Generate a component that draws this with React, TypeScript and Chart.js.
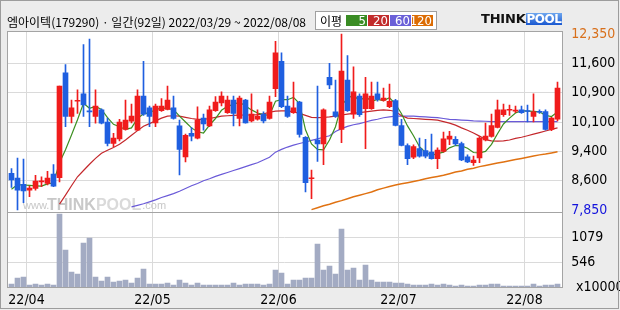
import React, { useEffect, useRef } from 'react';
import { Chart, registerables } from 'chart.js';

Chart.register(...registerables);

// ---------------- data ----------------
const title = '엠아이텍(179290) · 일간(92일) 2022/03/29 ~ 2022/08/08';
const maLegendLabel = '이평';
const maPeriods = ['5', '20', '60', '120'];

const monthLabels = ['22/04', '22/05', '22/06', '22/07', '22/08'];
const monthStartIndex = [3, 24, 45, 65, 86];

const priceTickValues = [7850, 8600, 9350, 10100, 10850, 11600, 12350];
const priceTickLabels = ['7,850', '8,600', '9,400', '10,100', '10,900', '11,600', '12,350'];
const volumeTickValues = [546, 1079];
const volumeTickLabels = ['546', '1079'];
const volumeUnitLabel = 'x10000';

const opens = [
  8790, 8670, 8510, 8360, 8400, 8570, 8530, 8770, 8680, 11360,
  10240, 10630, 10820, 10370, 10240, 10410, 10100, 9550, 9670, 9910,
  10120, 9890, 10760, 10460, 10080, 10390, 10420, 10460, 10000, 9210,
  9810, 9690, 10200, 10000, 10390, 10590, 10340, 10660, 10190, 10660,
  10130, 10170, 10300, 10190, 10950, 11650, 10510, 10340, 10610, 9710,
  8650, 9640, 9540, 11240, 10360, 9910, 11170, 10300, 10760, 10440,
  10440, 10820, 10650, 10490, 10650, 10010, 9500, 9200, 9420, 9370,
  9330, 9160, 9350, 9660, 9660, 9550, 9210, 9060, 9180, 9640,
  9730, 9960, 10290, 10400, 10380, 10410, 10380, 10240, 10360, 10370,
  9910, 10170,
];
const highs = [
  8910, 9180, 9150, 8460, 8740, 8700, 8840, 9010, 11020, 11570,
  10660, 10920, 12080, 12220, 10920, 10440, 10200, 9810, 10170, 10660,
  10560, 10920, 11650, 10510, 10560, 10700, 11020, 10760, 10150, 9790,
  9960, 10490, 10300, 10510, 10750, 10870, 10760, 10760, 10760, 10680,
  10820, 10410, 10360, 10760, 12160, 11870, 10760, 11120, 10630, 9730,
  8870, 11020, 10440, 11600, 11170, 12350, 11800, 11510, 10820, 11240,
  11120, 11120, 10970, 11070, 10680, 10170, 9540, 9520, 9690, 9660,
  9790, 9440, 9840, 9860, 9730, 9590, 9260, 9230, 9730, 10070,
  10300, 10660, 10560, 10530, 10510, 10510, 10530, 10820, 10410, 10410,
  10220, 11120,
];
const lows = [
  8430, 7850, 8040, 8190, 8360, 8450, 8490, 8450, 8570, 9980,
  10080, 10320, 10240, 9980, 10070, 10050, 9490, 9470, 9620, 9890,
  10080, 9880, 10270, 9980, 9980, 10370, 10410, 10170, 8750, 9080,
  9620, 9670, 9890, 9980, 10370, 10510, 10320, 10000, 10000, 10070,
  10100, 10150, 10080, 10170, 10750, 10470, 10220, 10320, 9710, 8310,
  8140, 9090, 9010, 10950, 10220, 9570, 10370, 10190, 10240, 9420,
  10420, 10630, 10630, 10470, 10000, 9490, 9010, 9160, 9200, 9180,
  9150, 8910, 9330, 9520, 9500, 9110, 9060, 8990, 9060, 9620,
  9710, 9950, 10240, 10270, 10340, 10320, 10100, 10100, 10320, 9890,
  9880, 10130,
];
const closes = [
  8620, 8360, 8340, 8410, 8590, 8580, 8670, 8460, 11020, 10240,
  10460, 10640, 10540, 10360, 10510, 10070, 9550, 9690, 10100, 10150,
  10250, 10760, 10300, 10240, 10510, 10510, 10660, 10190, 9400, 9760,
  9740, 10150, 10050, 10410, 10610, 10760, 10660, 10320, 10710, 10080,
  10300, 10250, 10130, 10610, 11870, 10490, 10240, 10460, 9780, 8550,
  8660, 9540, 10410, 11050, 10240, 11400, 10390, 10870, 10290, 10820,
  10760, 10680, 10710, 10630, 10010, 9500, 9160, 9470, 9230, 9230,
  9160, 9380, 9670, 9740, 9540, 9130, 9080, 9130, 9690, 9740,
  10010, 10410, 10410, 10410, 10390, 10340, 10370, 10360, 10350, 9910,
  10200, 10970,
];
const volumes = [
  78, 206, 227, 57, 78, 57, 78, 57, 1571, 803,
  334, 291, 952, 1059, 227, 142, 227, 121, 142, 163,
  100, 206, 398, 78, 78, 78, 100, 57, 163, 100,
  57, 100, 57, 57, 57, 57, 57, 100, 57, 78,
  78, 78, 57, 78, 377, 313, 78, 163, 163, 206,
  206, 931, 377, 462, 291, 1251, 377, 419, 163, 483,
  163, 121, 121, 121, 100, 100, 78, 57, 57, 57,
  78, 57, 78, 57, 36, 57, 36, 36, 57, 57,
  78, 78, 36, 36, 36, 36, 36, 78, 36, 57,
  57, 78,
];
const ma5 = [
  8380, 8500, 8490, 8480, 8470, 8460, 8520, 8540, 9060, 9390,
  9770, 10160, 10580, 10450, 10500, 10420, 10210, 10040, 9980, 9910,
  9950, 10190, 10310, 10340, 10410, 10460, 10440, 10420, 10250, 10100,
  9950, 9850, 9820, 10020, 10190, 10400, 10500, 10550, 10610, 10510,
  10410, 10330, 10290, 10270, 10630, 10670, 10670, 10730, 10570, 9900,
  9540, 9400, 9390, 9640, 9980, 10530, 10700, 10790, 10640, 10750,
  10630, 10680, 10650, 10720, 10560, 10310, 10000, 9750, 9470, 9320,
  9250, 9290, 9330, 9440, 9500, 9490, 9430, 9320, 9310, 9350,
  9530, 9800, 10050, 10200, 10330, 10390, 10380, 10370, 10360, 10270,
  10240, 10360,
];
const ma20 = [
  null, null, null, null, null, null, null, null, 8000, 8230,
  8470, 8700, 8860, 9020, 9170, 9300, 9380, 9450, 9530, 9640,
  9760, 9880, 9990, 10060, 10130, 10200, 10250, 10260, 10250, 10220,
  10190, 10170, 10170, 10190, 10220, 10250, 10260, 10270, 10275, 10280,
  10280, 10290, 10310, 10350, 10380, 10385, 10385, 10360, 10320, 10270,
  10220, 10210, 10215, 10230, 10250, 10280, 10300, 10320, 10340, 10360,
  10380, 10400, 10410, 10400, 10370, 10260, 10200, 10190, 10180, 10170,
  10160, 10150, 10110, 10070, 10020, 9950, 9890, 9820, 9740, 9650,
  9620, 9610, 9620, 9640, 9680, 9710, 9750, 9790, 9830, 9870,
  9910, 9950,
];
const ma60 = [
  null, null, null, null, null, null, null, null, null, null,
  null, null, null, null, null, null, null, null, null, null,
  7930, 7970, 8010, 8060, 8110, 8170, 8220, 8270, 8330, 8400,
  8470, 8530, 8600, 8650, 8710, 8760, 8810, 8860, 8910, 8960,
  9010, 9060, 9130, 9200, 9330, 9400, 9460, 9510, 9550, 9590,
  9630, 9670, 9710, 9750, 9860, 9930, 9990, 10030, 10060, 10100,
  10140, 10170, 10210, 10230, 10250, 10250, 10250, 10250, 10240, 10230,
  10220, 10210, 10190, 10170, 10160, 10150, 10140, 10130, 10125, 10120,
  10110, 10110, 10110, 10110, 10110, 10110, 10110, 10110, 10110, 10110,
  10110, 10110,
];
const ma120 = [
  null, null, null, null, null, null, null, null, null, null,
  null, null, null, null, null, null, null, null, null, null,
  null, null, null, null, null, null, null, null, null, null,
  null, null, null, null, null, null, null, null, null, null,
  null, null, null, null, null, null, null, null, null, null,
  7860, 7910, 7960, 8000, 8050, 8090, 8140, 8190, 8230, 8270,
  8310, 8370, 8410, 8450, 8490, 8520, 8550, 8580, 8610, 8650,
  8680, 8710, 8740, 8780, 8820, 8850, 8890, 8920, 8960, 8990,
  9020, 9050, 9080, 9110, 9140, 9170, 9200, 9230, 9260, 9280,
  9310, 9340,
];

// ---------------- styles / layout ----------------
const UP = '#f01c1c';
const DOWN = '#1f5fe0';
const GRID = '#dadada';
const FRAME = '#a4a4a4';
const VOL_COLOR = '#a3abc3';
const MA_COLORS = ['#3c8f20', '#c4282c', '#6a5ad8', '#e07212'];
const LEGEND_COLORS = ['#3a8c24', '#c22c2c', '#6b60d8', '#dc6c04'];
const priceTickColors = ['#1414dc', '#000', '#000', '#000', '#000', '#000', '#d8701c'];
const NUM_FONT = '"Liberation Sans Narrow", "DejaVu Sans Condensed", "Liberation Sans", sans-serif';
const KR_FONT = '"Noto Sans CJK KR", "Noto Sans", sans-serif';

const CANVAS_W = 620;
const CANVAS_H = 310;
const X_MIN = -0.75;
const X_MAX = 91.8;
const PLOT_LEFT = 7;
const AXIS_W = CANVAS_W - 562.3;
const PRICE_TOP = 31.5;
const PRICE_BOTTOM = 212.5;
const VOL_BOTTOM = 287.7;
const PRICE_MIN = 7787;
const PRICE_MAX = 12414;
const VOL_MAX = 1606;

function panelPlugin(id: string, extra?: (chart: any) => void) {
  return {
    id,
    beforeDraw(chart: any) {
      const { ctx, chartArea: a } = chart;
      ctx.save();
      ctx.fillStyle = '#ffffff';
      ctx.fillRect(a.left, a.top, a.right - a.left, a.bottom - a.top);
      ctx.restore();
    },
    afterDraw(chart: any) {
      const { ctx, chartArea: a } = chart;
      ctx.save();
      ctx.strokeStyle = FRAME;
      ctx.lineWidth = 1;
      const l = Math.floor(a.left), t = Math.floor(a.top);
      const r = Math.floor(a.right), b = Math.floor(a.bottom);
      ctx.strokeRect(l + 0.5, t + 0.5, r - l, b - t);
      ctx.restore();
      if (extra) extra(chart);
    },
  };
}

const watermarkPlugin = {
  id: 'watermark',
  beforeDatasetsDraw(chart: any) {
    const ctx = chart.ctx;
    ctx.save();
    ctx.textBaseline = 'alphabetic';
    ctx.fillStyle = '#c8c8c8';
    ctx.font = '11px "Liberation Sans", sans-serif';
    ctx.fillText('www.', 23, 208.5);
    ctx.font = 'bold 16px "Liberation Sans", sans-serif';
    ctx.fillText('THINK', 47, 210);
    const w1 = ctx.measureText('THINK').width;
    ctx.fillStyle = '#dadada';
    ctx.fillText('POOL', 47 + w1, 210);
    const w2 = ctx.measureText('POOL').width;
    ctx.fillStyle = '#c8c8c8';
    ctx.font = '11px "Liberation Sans", sans-serif';
    ctx.fillText('.com', 48 + w1 + w2, 208.5);
    ctx.restore();
  },
};

function xScale(showLabels: boolean, height: number) {
  return {
    type: 'linear',
    min: X_MIN,
    max: X_MAX,
    offset: false,
    afterBuildTicks: (s: any) => {
      s.ticks = monthStartIndex.map((i) => ({ value: i - 0.5 }));
    },
    afterFit: (s: any) => {
      s.height = height;
    },
    grid: { color: GRID, drawTicks: false, offset: false, lineWidth: 1 },
    border: { display: false },
    ticks: {
      display: showLabels,
      padding: 4,
      autoSkip: false,
      maxRotation: 0,
      minRotation: 0,
      color: '#000',
      font: { family: NUM_FONT, size: 14 },
      callback: (_v: any, i: number) => monthLabels[i],
    },
  };
}

export default function App() {
  const priceRef = useRef<HTMLCanvasElement>(null);
  const volRef = useRef<HTMLCanvasElement>(null);

  useEffect(() => {
    const xs = closes.map((_, i) => i);
    const colors = xs.map((i) => (closes[i] >= opens[i] ? UP : DOWN));
    const maSeries = [ma5, ma20, ma60, ma120];

    const priceChart = new Chart(priceRef.current as HTMLCanvasElement, {
      type: 'bar',
      data: {
        datasets: [
          {
            type: 'bar',
            label: 'body',
            data: xs.map((i) => ({ x: i, y: [opens[i], closes[i]] })),
            backgroundColor: colors,
            barThickness: 5,
            minBarLength: 1,
            grouped: false,
            borderWidth: 0,
            order: 0,
          },
          {
            type: 'bar',
            label: 'wick',
            data: xs.map((i) => ({ x: i, y: [lows[i], highs[i]] })),
            backgroundColor: colors,
            barThickness: 1,
            grouped: false,
            borderWidth: 0,
            order: 1,
          },
          ...maSeries.map((arr, k) => ({
            type: 'line',
            label: 'MA' + maPeriods[k],
            data: xs.map((i) => ({ x: i, y: arr[i] })),
            borderColor: MA_COLORS[k],
            borderWidth: k === 3 ? 1.5 : 1.2,
            pointRadius: 0,
            tension: 0,
            spanGaps: false,
            order: 2 + k,
          })),
        ] as any,
      },
      options: {
        responsive: false,
        animation: false,
        devicePixelRatio: 1,
        events: [],
        layout: { padding: { left: PLOT_LEFT, top: PRICE_TOP, right: 0, bottom: CANVAS_H - PRICE_BOTTOM } },
        plugins: { legend: { display: false }, tooltip: { enabled: false } },
        scales: {
          x: xScale(false, 0) as any,
          y: {
            position: 'right',
            min: PRICE_MIN,
            max: PRICE_MAX,
            afterBuildTicks: (s: any) => {
              s.ticks = priceTickValues.map((v) => ({ value: v }));
            },
            afterFit: (s: any) => {
              s.width = AXIS_W;
            },
            grid: {
              color: (c: any) =>
                c.index === 0 || c.index === priceTickValues.length - 1 ? 'rgba(0,0,0,0)' : GRID,
              drawTicks: false,
              lineWidth: 1,
            },
            border: { display: false },
            ticks: {
              padding: 9,
              color: (c: any) => priceTickColors[c.index],
              font: { family: NUM_FONT, size: 14 },
              callback: (_v: any, i: number) => priceTickLabels[i],
            },
          } as any,
        },
      },
      plugins: [panelPlugin('pricePanel'), watermarkPlugin],
    });

    const volChart = new Chart(volRef.current as HTMLCanvasElement, {
      type: 'bar',
      data: {
        datasets: [
          {
            label: 'volume',
            data: xs.map((i) => ({ x: i, y: volumes[i] })),
            backgroundColor: VOL_COLOR,
            barThickness: 5,
            borderWidth: 0,
          },
        ] as any,
      },
      options: {
        responsive: false,
        animation: false,
        devicePixelRatio: 1,
        events: [],
        layout: { padding: { left: PLOT_LEFT, top: PRICE_BOTTOM, right: 0, bottom: 0 } },
        plugins: { legend: { display: false }, tooltip: { enabled: false } },
        scales: {
          x: xScale(true, CANVAS_H - VOL_BOTTOM) as any,
          y: {
            position: 'right',
            min: 0,
            max: VOL_MAX,
            afterBuildTicks: (s: any) => {
              s.ticks = volumeTickValues.map((v) => ({ value: v }));
            },
            afterFit: (s: any) => {
              s.width = AXIS_W;
            },
            grid: { color: GRID, drawTicks: false, lineWidth: 1 },
            border: { display: false },
            ticks: {
              padding: 9,
              color: '#000',
              font: { family: NUM_FONT, size: 14 },
              callback: (_v: any, i: number) => volumeTickLabels[i],
            },
          } as any,
        },
      },
      plugins: [
        panelPlugin('volPanel', (chart: any) => {
          const ctx = chart.ctx;
          ctx.save();
          ctx.fillStyle = '#000';
          ctx.font = `14px ${NUM_FONT}`;
          ctx.textBaseline = 'middle';
          ctx.textAlign = 'left';
          ctx.fillText(volumeUnitLabel, 576, 287);
          ctx.restore();
        }),
      ],
    });

    return () => {
      priceChart.destroy();
      volChart.destroy();
    };
  }, []);

  return (
    <div
      style={{
        position: 'absolute',
        left: 0,
        top: 0,
        width: CANVAS_W,
        height: CANVAS_H,
        background: '#ececec',
        overflow: 'hidden',
      }}
    >
      <canvas ref={priceRef} width={CANVAS_W} height={CANVAS_H} style={{ position: 'absolute', left: 0, top: 0 }} />
      <canvas ref={volRef} width={CANVAS_W} height={CANVAS_H} style={{ position: 'absolute', left: 0, top: 0 }} />
      <div
        style={{
          position: 'absolute',
          left: 7,
          top: 14,
          font: `12px ${KR_FONT}`,
          lineHeight: '15px',
          color: '#000',
          whiteSpace: 'nowrap',
        }}
      >
        {title}
      </div>
      <div
        style={{
          position: 'absolute',
          left: 315,
          top: 11,
          width: 122,
          height: 19,
          boxSizing: 'border-box',
          border: '1px solid #a0a0a0',
          background: '#fff',
        }}
      >
        <span
          style={{
            position: 'absolute',
            left: 4,
            top: 1,
            font: `12px ${KR_FONT}`,
            lineHeight: '15px',
            color: '#000',
            whiteSpace: 'nowrap',
          }}
        >
          {maLegendLabel}
        </span>
        {maPeriods.map((p, k) => (
          <div
            key={p}
            style={{
              position: 'absolute',
              left: 30 + 22 * k,
              top: 3,
              width: 21,
              height: 11,
              background: LEGEND_COLORS[k],
              color: '#fff',
              font: `13px ${NUM_FONT}`,
              display: 'flex',
              alignItems: 'center',
              justifyContent: 'flex-end',
              paddingRight: 1,
              boxSizing: 'border-box',
              overflow: 'visible',
              whiteSpace: 'nowrap',
            }}
          >
            <span style={{ lineHeight: '11px', display: 'block' }}>{p}</span>
          </div>
        ))}
      </div>
      <div
        style={{
          position: 'absolute',
          left: 481,
          top: 12,
          height: 14,
          display: 'flex',
          alignItems: 'center',
          whiteSpace: 'nowrap',
        }}
      >
        <span style={{ font: 'bold 13px "DejaVu Sans", sans-serif', color: '#111', lineHeight: '14px', letterSpacing: -0.2 }}>
          THINK
        </span>
        <span
          style={{
            font: 'bold 12px "DejaVu Sans", sans-serif',
            color: '#fff',
            lineHeight: '12px',
            letterSpacing: -0.5,
            padding: '0 1px',
            background: 'linear-gradient(#6ea6ee, #1a58d0)',
          }}
        >
          POOL
        </span>
      </div>
      <div
        style={{
          position: 'absolute',
          left: 0,
          top: 0,
          width: 619,
          height: 309,
          boxSizing: 'border-box',
          border: '1px solid #9c9c9c',
          pointerEvents: 'none',
        }}
      />
    </div>
  );
}
